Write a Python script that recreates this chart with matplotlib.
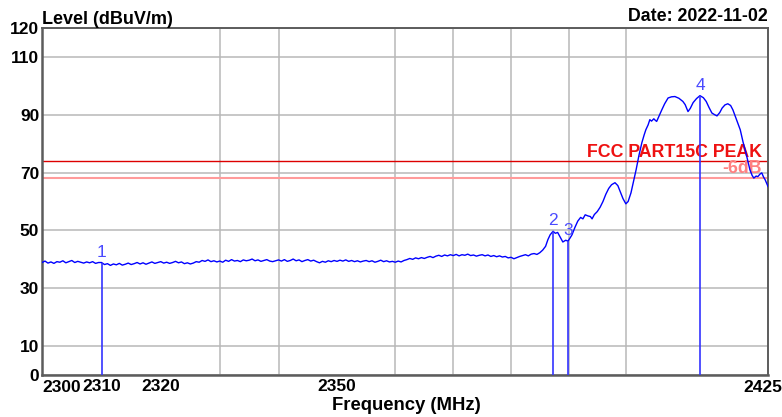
import numpy as np
import matplotlib
matplotlib.use('Agg')
import matplotlib.pyplot as plt
from matplotlib.ticker import NullFormatter

plt.rcParams['font.family'] = ['Liberation Sans', 'DejaVu Sans']

# ---------------- data ----------------
# flat (noise floor) part of the sweep, 0.5 MHz steps from 2300 to 2386 MHz
flat_start, flat_stop, flat_step = 2300.0, 2386.0, 0.5
flat_level = [
    38.9, 39.4, 38.7, 39.1, 38.6, 39.2, 39.0, 39.5, 38.8, 39.2,
    39.6, 38.9, 39.3, 39.0, 38.7, 39.1, 38.8, 39.2, 38.6, 38.9,
    38.9, 38.2, 38.5, 37.9, 38.4, 38.1, 38.6, 38.0, 38.3, 38.7,
    38.2, 38.5, 38.9, 38.4, 38.8, 38.3, 38.7, 39.1, 38.6, 38.9,
    39.2, 38.7, 39.0, 38.6, 38.9, 39.3, 38.8, 39.1, 38.5, 38.8,
    38.4, 38.7, 39.2, 39.0, 39.6, 39.3, 39.8, 39.2, 39.5, 39.1,
    39.4, 39.0, 39.7, 39.3, 39.9, 39.4, 39.6, 39.2, 39.8, 39.5,
    39.7, 40.1, 39.5, 39.8, 39.3, 39.6, 39.9, 39.4, 39.2, 39.5,
    39.8, 39.4, 39.9, 39.3, 39.6, 40.1, 39.5, 39.8, 39.2, 39.6,
    39.9, 39.4, 39.7, 39.2, 38.8, 39.3, 39.0, 39.5, 39.2, 39.6,
    39.3, 39.7, 39.4, 39.8, 39.3, 39.6, 39.2, 39.5, 39.1, 39.4,
    39.6, 39.2, 39.5, 39.0, 39.3, 39.7, 39.2, 39.5, 39.1, 39.3,
    39.0, 39.4, 39.1, 39.6, 39.9, 40.3, 40.0, 40.5, 40.2, 40.6,
    40.3, 40.7, 41.0, 40.6, 41.1, 41.4, 41.0, 41.5, 41.2, 41.6,
    41.3, 41.7, 41.2, 41.6, 41.4, 41.8, 41.3, 41.5, 41.1, 41.4,
    41.6, 41.2, 41.5, 41.0, 41.3, 40.9, 41.2, 40.8, 41.0, 40.5,
    40.7, 40.2, 40.6, 41.0, 41.3, 41.6, 41.2, 41.8, 42.0, 41.7,
    42.3, 43.2, 44.5,
]

# signal part of the sweep
band_freq = [
    2386.4, 2386.8, 2387.3, 2387.7, 2388.1, 2388.6, 2389.0, 2389.5, 2389.9,
    2390.3, 2390.6, 2391.1, 2391.6, 2392.1, 2392.5, 2392.9, 2393.4, 2393.8,
    2394.1, 2394.5, 2395.0, 2395.5, 2396.0, 2396.5, 2397.0, 2397.5, 2398.1,
    2398.6, 2399.0, 2399.5, 2400.0, 2400.4, 2400.9, 2401.3, 2401.8, 2402.3,
    2402.8, 2403.2, 2403.5, 2403.9, 2404.2, 2404.5, 2404.9, 2405.2, 2405.4,
    2405.8, 2406.3, 2406.8, 2407.4, 2408.0, 2408.6, 2409.3, 2410.0, 2410.4,
    2410.9, 2411.3, 2411.8, 2412.4, 2413.0, 2413.6, 2414.1, 2414.6, 2415.1,
    2415.6, 2416.0, 2416.5, 2416.9, 2417.4, 2417.9, 2418.4, 2418.8, 2419.4,
    2420.1, 2420.6, 2421.1, 2421.5, 2421.8, 2422.2, 2422.5, 2422.9, 2423.2,
    2423.6, 2423.9, 2424.2, 2424.5, 2425.0,
]
band_level = [
    46.8, 48.5, 49.7, 49.0, 49.3, 47.5, 46.0, 46.6, 46.3,
    47.5, 48.5, 51.0, 53.2, 54.5, 54.0, 55.4, 55.0, 54.8,
    54.0, 55.5, 56.5, 58.0, 60.0, 62.5, 64.5, 65.8, 66.5,
    65.5, 63.5, 61.0, 59.2, 60.0, 63.0, 66.5, 71.0, 76.0,
    80.3, 83.0, 84.8, 86.5, 88.3, 87.8, 88.6, 88.0, 87.7,
    89.5, 91.7, 93.8, 95.8, 96.2, 96.3, 95.7, 94.6, 93.5,
    91.1, 92.2, 94.2, 95.6, 96.6, 95.9, 94.6, 92.5, 90.6,
    90.0, 89.6, 90.8, 92.3, 93.4, 93.8, 93.2, 91.7, 88.5,
    84.8, 80.5, 76.8, 73.5, 71.0, 69.0, 68.1, 68.8, 68.6,
    69.5, 69.9, 68.5, 67.5, 65.2,
]

marker_names = ['1', '2', '3', '4']
marker_freq = [2310.0, 2387.3, 2389.9, 2413.0]
marker_level = [38.9, 49.7, 46.3, 96.6]

limit_peak = 74.0
limit_margin = 68.0
limit_name = 'FCC PART15C PEAK'
margin_name = '-6dB'

y_ticks = [0, 10, 30, 50, 70, 90, 110, 120]
x_grid = [2310, 2320, 2330, 2340, 2350, 2360, 2370, 2380, 2390, 2400]
x_tick_vals = [2310, 2320, 2350]
x_tick_labels = ['2310', '2320', '2350']
x_min, x_max = 2300, 2425

# ---------------- figure ----------------
freq = np.concatenate([np.arange(flat_start, flat_stop + 1e-6, flat_step), band_freq])
level = np.concatenate([flat_level, band_level])

fig = plt.figure(figsize=(7.82, 4.17), dpi=100)
ax = fig.add_axes([42 / 782, 42 / 417, 726 / 782, 347 / 417])
ax.set_xscale('log')
ax.set_xlim(x_min, x_max)
ax.set_ylim(0, 120)

grid_color = '#b8b8b8'
ax.set_yticks(y_ticks)
ax.set_yticklabels([str(v) for v in y_ticks], fontweight='bold', fontsize=12.5)
ax.set_xticks(x_grid, minor=True)
ax.set_xticks(x_tick_vals)
ax.set_xticklabels(x_tick_labels, fontweight='bold', fontsize=12.5)
ax.xaxis.set_minor_formatter(NullFormatter())
ax.tick_params(which='both', length=0)
ax.tick_params(axis='y', pad=2)
ax.tick_params(axis='x', pad=3)
ax.grid(which='minor', axis='x', color=grid_color, lw=1.1)
ax.grid(which='major', axis='y', color=grid_color, lw=1.1)
ax.set_axisbelow(True)

for s in ax.spines.values():
    s.set_color('#5c5c5c')
    s.set_linewidth(1.4)
ax.spines['left'].set_linewidth(1.8)
ax.spines['bottom'].set_linewidth(1.8)

# extra x labels at the edges
ax.annotate('2300', xy=(0, 0), xycoords='axes fraction', xytext=(0, -5),
            textcoords='offset pixels', ha='left', va='top',
            fontweight='bold', fontsize=12.5)
ax.annotate('2425', xy=(1, 0), xycoords='axes fraction', xytext=(14, -5),
            textcoords='offset pixels', ha='right', va='top',
            fontweight='bold', fontsize=12.5)

# limit lines
ax.axhline(limit_peak, color='#dd0000', lw=1.0, zorder=2)
ax.axhline(limit_margin, color='#ff9a9a', lw=1.5, zorder=2)
ax.annotate(limit_name, xy=(1, limit_peak), xycoords=('axes fraction', 'data'),
            xytext=(-6, 4), textcoords='offset pixels', ha='right', va='baseline',
            color='#ee1111', fontweight='bold', fontsize=12.8)
ax.annotate(margin_name, xy=(1, limit_margin), xycoords=('axes fraction', 'data'),
            xytext=(-6, 5), textcoords='offset pixels', ha='right', va='baseline',
            color='#ff8080', fontweight='bold', fontsize=12.8)

# trace
ax.plot(freq, level, color='#0000ff', lw=1.0, zorder=3)

# markers
for name, f, l in zip(marker_names, marker_freq, marker_level):
    ax.vlines(f, 0, l, color='#3333ff', lw=1.2, zorder=3)
    ax.annotate(name, xy=(f, l), xytext=(0, 3), textcoords='offset pixels',
                ha='center', va='bottom', color='#4a4aff', fontsize=12.5)

# titles
fig.text(42 / 782, 1 - 23.5 / 417, 'Level (dBuV/m)', ha='left', va='baseline',
         fontweight='bold', fontsize=13)
fig.text(768 / 782, 1 - 21 / 417, 'Date: 2022-11-02', ha='right', va='baseline',
         fontweight='bold', fontsize=12.8)
fig.text(406.5 / 782, 1 - 409.5 / 417, 'Frequency (MHz)', ha='center', va='baseline',
         fontweight='bold', fontsize=13.3)

fig.savefig('out.png', dpi=100)
